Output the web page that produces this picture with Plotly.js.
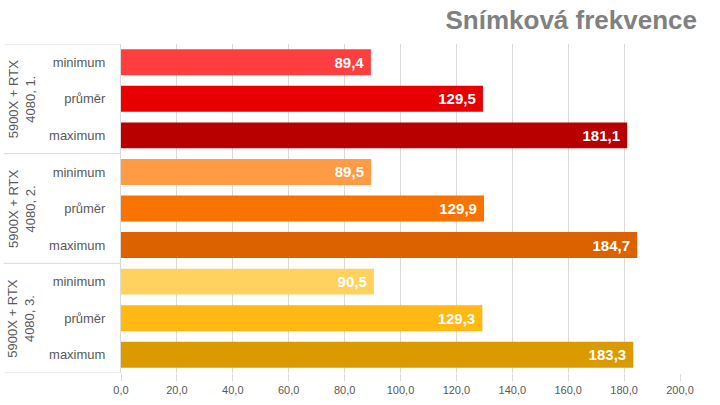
<!DOCTYPE html>
<html>
<head>
<meta charset="utf-8">
<script src="https://cdn.plot.ly/plotly-3.0.1.min.js"></script>
<style>html,body{margin:0;padding:0;background:#fff;}#chart{width:720px;height:405px;}</style>
</head>
<body>
<div id="chart"></div>
<script>
const groups = ["5900X + RTX<br>4080, 1.", "5900X + RTX<br>4080, 2.", "5900X + RTX<br>4080, 3."];
const metrics = ["minimum", "průměr", "maximum"];
const values = [89.4, 129.5, 181.1, 89.5, 129.9, 184.7, 90.5, 129.3, 183.3];
const colors = ["#FF3F3F", "#E80000", "#B80000", "#FF9A45", "#F97300", "#DC6200", "#FFD260", "#FFB912", "#DB9B00"];
const xTicks = [0, 20, 40, 60, 80, 100, 120, 140, 160, 180, 200];

const yIdx = values.map((v, i) => i);
const yLabels = values.map((v, i) => metrics[i % 3]);

const trace = {
  type: "bar",
  orientation: "h",
  x: values,
  y: yIdx,
  marker: {color: colors},
  texttemplate: "%{x:.1f} ",
  textposition: "inside",
  insidetextanchor: "end",
  textfont: {family: "Liberation Sans, Arial, sans-serif", size: 15, color: "#ffffff", weight: "bold"},
  cliponaxis: false,
  hoverinfo: "none"
};

const shapes = [];
for (let g = 0; g <= groups.length; g++) {
  shapes.push({type: "line", xref: "paper", yref: "y", x0: -0.21, x1: 0, y0: g * 3 - 0.5, y1: g * 3 - 0.5,
    line: {color: "#d9d9d9", width: 1}});
}
const annotations = groups.map((g, i) => ({
  text: g, xref: "paper", yref: "y", x: -0.178, y: i * 3 + 1, textangle: -90, showarrow: false,
  font: {family: "Liberation Sans, Arial, sans-serif", size: 13, color: "#595959"}, xanchor: "center", yanchor: "middle"
}));

const layout = {
  width: 720, height: 405,
  margin: {l: 121, r: 40, t: 44, b: 32},
  paper_bgcolor: "#ffffff", plot_bgcolor: "#ffffff",
  separators: ", ",
  showlegend: false,
  bargap: 0.29,
  title: {text: "<b>Snímková frekvence</b>", x: 0.968, xanchor: "right", xref: "container", y: 0.95, yanchor: "middle", yref: "container",
    font: {family: "Liberation Sans, Arial, sans-serif", size: 26, color: "#808080"}},
  xaxis: {range: [0, 200], tickvals: xTicks, tickformat: ".1f", showgrid: true, gridcolor: "#d9d9d9", gridwidth: 1,
    zeroline: false, showline: false, ticks: "outside", ticklen: 7, tickcolor: "#d9d9d9",
    tickfont: {family: "Liberation Sans, Arial, sans-serif", size: 11, color: "#595959"}, fixedrange: true},
  yaxis: {range: [8.5, -0.5], tickvals: yIdx, ticktext: yLabels, showgrid: false, zeroline: false,
    showline: true, linecolor: "#d9d9d9", linewidth: 1, ticks: "", ticklabelstandoff: 12,
    tickfont: {family: "Liberation Sans, Arial, sans-serif", size: 13, color: "#595959"}, fixedrange: true},
  shapes: shapes,
  annotations: annotations
};

Plotly.newPlot("chart", [trace], layout, {displayModeBar: false, staticPlot: true});
</script>
</body>
</html>
